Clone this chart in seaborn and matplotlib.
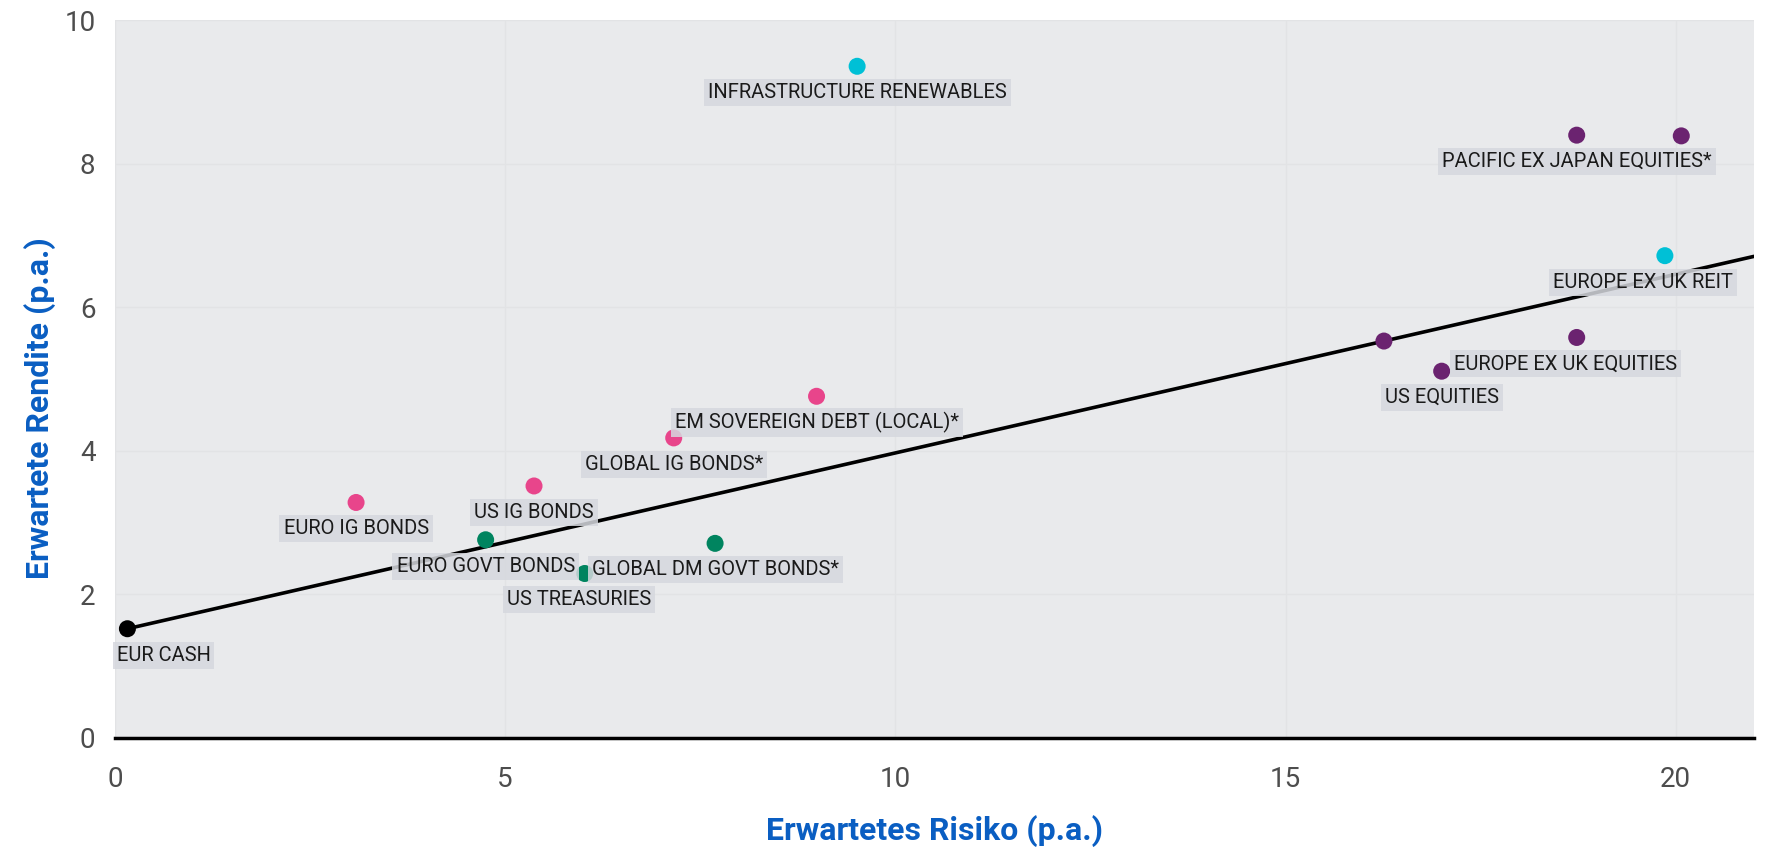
import numpy as np
import pandas as pd
import seaborn as sns
import matplotlib.pyplot as plt

# expected risk (x) and expected return (y)
names = ["EUR CASH", "EURO IG BONDS", "US IG BONDS", "GLOBAL IG BONDS*",
         "EM SOVEREIGN DEBT (LOCAL)*", "EURO GOVT BONDS", "US TREASURIES",
         "GLOBAL DM GOVT BONDS*", "INFRASTRUCTURE RENEWABLES", "EUROPE EX UK REIT",
         "PACIFIC EX JAPAN EQUITIES*", "", "US EQUITIES", "EUROPE EX UK EQUITIES", ""]
risk = [0.16, 3.09, 5.37, 7.16, 8.99, 4.75, 6.02, 7.69, 9.51, 19.86,
        18.73, 20.07, 17.0, 18.73, 16.26]
ret = [1.52, 3.28, 3.51, 4.18, 4.76, 2.76, 2.29, 2.71, 9.36, 6.72,
       8.40, 8.39, 5.11, 5.58, 5.53]
group = ["cash", "credit", "credit", "credit", "credit", "govt", "govt", "govt",
         "real", "real", "equity", "equity", "equity", "equity", "equity"]

# capital market line
line_x = [0.16, 21.0]
line_y = [1.52, 6.71]

# label offsets (points)
label_dx = [26, 0, 0, 0, 0, 0, -4, 0, 0, -16, 0, 0, 0, -8, 0]

palette = {"cash": "#000000", "credit": "#e8458b", "govt": "#00845f",
           "real": "#00c0d6", "equity": "#6b2370"}

df = pd.DataFrame({"name": names, "risk": risk, "ret": ret, "group": group})

sns.set_theme(style="white")
plt.rcParams["font.family"] = ["Roboto", "DejaVu Sans"]

fig, ax = plt.subplots(figsize=(17.68, 8.49), dpi=100)
fig.subplots_adjust(left=0.065, right=0.992, top=0.976, bottom=0.131)
ax.set_facecolor("#e9eaec")

sns.lineplot(x=line_x, y=line_y, color="black", linewidth=2.6, ax=ax, zorder=2)
sns.scatterplot(data=df, x="risk", y="ret", hue="group", palette=palette,
                s=150, edgecolor="none", legend=False, ax=ax, zorder=3)

for i, row in df.iterrows():
    if not row["name"]:
        continue
    ax.annotate(row["name"], (row["risk"], row["ret"]),
                xytext=(label_dx[i], -19), textcoords="offset points",
                ha="center", va="center", fontsize=14.5, color="#1a1a1a",
                zorder=4,
                bbox=dict(boxstyle="square,pad=0.2", fc="#d6d8de",
                          ec="none", alpha=0.85))

ax.set_xlim(0, 21)
ax.set_ylim(0, 10)
ax.set_xticks([0, 5, 10, 15, 20])
ax.set_yticks([0, 2, 4, 6, 8, 10])
ax.grid(True, color="#e2e3e5", linewidth=1)
ax.set_axisbelow(True)
for s in ["top", "right", "left"]:
    ax.spines[s].set_visible(False)
ax.spines["bottom"].set_color("black")
ax.spines["bottom"].set_linewidth(2.5)
ax.tick_params(axis="both", length=0, labelsize=20, labelcolor="#4d4d4d")
ax.tick_params(axis="x", pad=20)
ax.tick_params(axis="y", pad=14)

ax.set_xlabel("Erwartetes Risiko (p.a.)", fontsize=23, fontweight="bold",
              color="#0a5ec2", labelpad=16)
ax.set_ylabel("Erwartete Rendite (p.a.)", fontsize=23, fontweight="bold",
              color="#0a5ec2")
ax.yaxis.set_label_coords(-0.036, 0.46)

fig.savefig("out.png", dpi=100)
